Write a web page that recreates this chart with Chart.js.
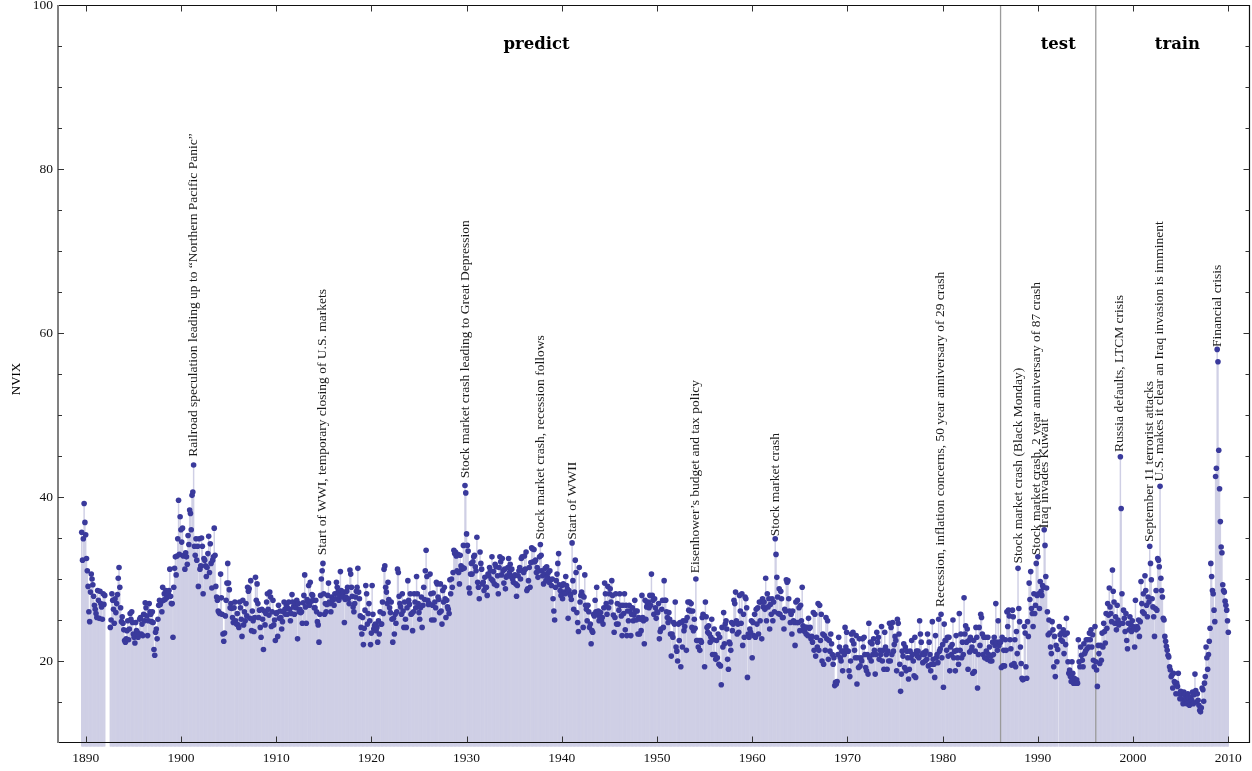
<!DOCTYPE html>
<html>
<head>
<meta charset="utf-8">
<script src="https://cdn.jsdelivr.net/npm/chart.js@4.4.1/dist/chart.umd.min.js"></script>
<style>
  html, body { margin: 0; padding: 0; background: #fff; }
  #wrap { width: 1252px; height: 771px; position: relative; }
</style>
</head>
<body>
<div id="wrap"><canvas id="nvix"></canvas></div>
<script>
// monthly NVIX, first value is July 1889 (x = year + month/12)
const firstYear = 1889;
const firstMonth = 7;

const nvix1880s = [35.7, 32.3, 34.9, 39.2, 36.9, 35.4];
const nvix1890s = [
  32.5, 31.0, 29.1, 26.0, 24.8, 28.4, 30.6, 30.0, 29.3, 27.9, 26.8, 26.3,
  25.8, 25.3, 28.6, 27.4, 25.2, 28.5, 27.0, 26.6, 25.1, 28.2, 26.9, 28.0,
  null, null, null, null, null, null, 24.1, 25.0, 28.2, 27.4, 26.3, 24.6,
  27.6, 25.9, 27.0, 28.1, 30.1, 31.4, 29.0, 26.5, 24.8, 25.4, 24.6, 23.8,
  22.5, 22.3, 22.7, 23.7, 24.9, 22.6, 23.9, 25.8, 25.1, 26.0, 24.7, 23.3,
  22.9, 22.2, 24.7, 23.7, 23.5, 22.9, 23.3, 25.1, 25.3, 23.3, 24.5, 23.1,
  25.7, 24.9, 27.1, 26.5, 25.5, 23.1, 24.9, 27.0, 26.0, 25.7, 24.8, 26.0,
  24.7, 21.4, 20.7, 23.5, 23.9, 22.7, 25.1, 26.8, 27.4, 26.9, 27.2, 26.0,
  29.0, 27.4, 28.2, 27.5, 28.6, 27.7, 28.0, 28.2, 28.6, 31.2, 27.9, 27.0,
  27.0, 22.9, 29.0, 31.3, 32.7, 30.5, 32.8, 34.9, 39.6, 33.0, 37.6, 36.0
];
const nvix1900s = [
  34.5, 36.2, 32.8, 32.9, 31.2, 33.2, 32.7, 31.8, 35.3, 34.2, 38.4, 38.0,
  36.0, 40.2, 40.6, 43.9, 34.0, 32.9, 34.9, 32.3, 34.0, 29.1, 34.9, 31.2,
  31.6, 35.0, 34.0, 28.2, 32.5, 32.3, 31.6, 30.3, 31.4, 33.1, 35.2, 30.8,
  34.3, 31.9, 28.9, 32.3, 32.7, 36.2, 32.9, 29.1, 27.8, 27.4, 26.1, 25.9,
  25.8, 30.6, 27.7, 25.7, 23.3, 22.4, 23.4, 25.5, 27.4, 29.5, 31.9, 29.5,
  28.7, 26.5, 27.0, 26.4, 25.3, 24.7, 26.5, 27.2, 24.9, 24.5, 25.8, 24.4,
  24.1, 27.2, 26.5, 25.1, 23.0, 27.4, 24.4, 26.0, 24.9, 27.0, 25.5, 29.0,
  28.5, 28.8, 25.2, 29.8, 23.7, 26.1, 24.9, 23.6, 25.3, 30.2, 27.4, 29.4,
  27.0, 25.3, 26.2, 24.1, 22.9, 26.3, 25.1, 21.4, 26.1, 24.4, 25.8, 27.2,
  28.2, 26.3, 25.6, 28.4, 27.8, 24.2, 26.0, 27.4, 24.4, 25.0, 22.5, 25.8
];
const nvix1910s = [
  25.9, 23.0, 26.8, 25.2, 26.1, 25.3, 23.9, 24.8, 26.0, 27.2, 26.3, 25.7,
  26.8, 25.7, 26.4, 27.2, 26.3, 24.9, 25.8, 28.1, 27.2, 26.6, 25.7, 27.0,
  26.5, 27.4, 22.7, 27.0, 26.0, 26.3, 25.9, 26.0, 24.6, 27.1, 28.0, 30.5,
  26.6, 24.6, 27.5, 27.2, 29.2, 26.8, 29.6, 27.3, 28.1, 28.0, 27.4, 26.5,
  26.5, 27.4, 26.0, 24.8, 24.4, 22.3, 25.7, 28.0, 30.0, 31.0, 31.9, 28.2,
  25.7, 27.0, 26.0, 26.9, 28.0, 29.5, 27.2, 27.0, 26.0, 27.8, 27.4, 27.5,
  26.8, 28.2, 27.6, 29.6, 29.0, 28.4, 27.4, 28.0, 30.9, 28.6, 27.8, 28.2,
  28.4, 24.7, 27.5, 27.8, 28.5, 29.0, 27.6, 27.0, 31.1, 30.6, 29.0, 27.9,
  26.6, 26.0, 27.0, 27.8, 28.5, 29.0, 31.3, 28.4, 27.6, 25.5, 24.1, 23.3,
  25.3, 22.0, 24.0, 26.2, 29.2, 28.2, 24.5, 25.8, 27.0, 24.9, 22.0, 23.4
];
const nvix1920s = [
  29.2, 25.7, 23.9, 24.3, 24.5, 23.7, 24.1, 22.3, 24.9, 23.3, 26.0, 24.5,
  24.5, 27.2, 25.8, 31.2, 31.6, 29.0, 28.4, 27.0, 29.6, 27.5, 26.5, 25.9,
  27.2, 25.1, 22.3, 25.2, 23.3, 25.7, 24.6, 26.0, 31.2, 30.8, 27.9, 27.0,
  26.6, 25.7, 28.2, 26.1, 24.1, 27.2, 25.1, 24.1, 26.5, 29.8, 27.4, 26.9,
  28.2, 25.7, 25.8, 23.7, 26.0, 28.2, 27.2, 26.5, 30.3, 28.2, 27.0, 25.9,
  25.1, 26.5, 27.8, 24.1, 26.8, 29.0, 27.5, 31.0, 33.5, 30.3, 27.4, 26.9,
  27.0, 30.6, 28.2, 25.0, 26.8, 28.3, 25.0, 27.2, 26.5, 29.6, 29.4, 27.8,
  27.5, 25.9, 29.4, 26.1, 24.5, 28.6, 27.2, 29.0, 27.6, 25.3, 27.4, 26.6,
  26.3, 25.8, 29.9, 28.2, 30.0, 29.0, 30.8, 33.5, 33.1, 33.3, 32.8, 31.0,
  33.0, 30.8, 29.4, 32.9, 31.6, 31.2, 31.4, 34.1, 31.3, 41.4, 40.5, 35.5
];
const nvix1930s = [
  34.1, 33.4, 28.9, 28.3, 30.6, 31.9, 30.6, 32.1, 32.7, 32.9, 31.5, 31.0,
  35.1, 29.6, 29.0, 27.6, 33.3, 31.9, 31.2, 29.4, 29.6, 28.6, 30.2, 29.0,
  29.0, 28.0, 30.6, 30.4, 31.4, 31.0, 30.0, 32.7, 29.8, 30.9, 29.4, 31.8,
  31.5, 29.2, 30.4, 28.2, 31.4, 32.7, 32.1, 30.5, 32.5, 31.0, 29.5, 31.2,
  28.8, 30.2, 30.4, 31.4, 32.5, 30.8, 31.8, 30.3, 31.2, 30.0, 29.6, 30.4,
  30.5, 29.4, 27.9, 29.2, 30.4, 31.0, 31.4, 30.0, 32.5, 32.7, 31.0, 30.8,
  32.8, 31.2, 33.3, 28.6, 28.8, 29.8, 31.4, 29.0, 32.0, 33.8, 33.7, 32.1,
  33.6, 32.1, 32.3, 30.8, 31.4, 30.2, 31.0, 32.7, 34.2, 32.9, 31.0, 30.4,
  29.4, 30.6, 31.3, 29.8, 31.5, 30.2, 30.8, 29.6, 31.0, 29.9, 29.2, 30.0,
  27.6, 26.1, 25.0, 29.0, 29.8, 30.6, 31.9, 33.1, 29.3, 28.6, 28.0, 29.2
];
const nvix1940s = [
  27.6, 29.4, 28.4, 28.2, 30.3, 29.2, 28.8, 25.2, 28.6, 28.2, 28.0, 27.5,
  34.4, 29.8, 26.3, 28.4, 32.3, 30.8, 25.9, 24.7, 23.6, 31.4, 27.2, 28.0,
  28.4, 28.0, 24.1, 27.8, 30.5, 26.8, 26.3, 24.9, 26.8, 26.0, 24.1, 24.5,
  22.1, 23.7, 23.5, 25.7, 25.5, 27.4, 26.0, 29.0, 25.7, 26.1, 24.9, 25.3,
  25.9, 24.9, 25.3, 24.5, 26.5, 29.5, 28.2, 27.0, 25.7, 29.1, 26.5, 28.2,
  28.8, 27.2, 29.8, 28.0, 25.6, 23.5, 25.3, 28.2, 24.5, 27.0, 24.5, 26.2,
  28.2, 26.8, 25.5, 23.1, 26.8, 25.8, 28.2, 23.8, 26.8, 23.1, 26.1, 24.9,
  26.8, 26.1, 23.1, 25.7, 26.5, 24.9, 25.6, 27.4, 26.1, 25.0, 26.1, 23.3,
  25.3, 23.3, 25.1, 23.7, 28.0, 25.3, 24.9, 22.1, 27.4, 25.1, 26.6, 27.0,
  27.2, 26.5, 28.0, 26.8, 30.6, 28.0, 27.4, 25.7, 27.6, 26.5, 25.2, 26.0
];
const nvix1950s = [
  25.9, 27.0, 22.7, 23.6, 23.9, 26.3, 27.4, 24.1, 29.8, 27.4, 27.4, 26.0,
  25.3, 24.7, 25.9, 25.1, 23.3, 20.6, 23.3, 22.9, 24.7, 24.5, 27.2, 21.7,
  21.2, 20.0, 24.5, 22.5, 24.7, 19.3, 24.7, 21.7, 24.9, 23.7, 24.2, 24.9,
  21.3, 25.3, 27.2, 26.2, 27.2, 26.1, 27.0, 24.1, 26.1, 23.7, 25.1, 24.0,
  30.0, 22.5, 22.5, 21.7, 22.5, 21.3, 22.5, 22.3, 25.3, 25.7, 25.5, 19.3,
  27.2, 25.4, 24.1, 23.5, 24.3, 23.3, 22.3, 22.9, 25.1, 20.8, 22.6, 23.9,
  20.8, 20.2, 22.5, 20.4, 23.3, 19.6, 22.9, 19.4, 17.1, 24.1, 21.7, 25.9,
  22.1, 24.5, 24.9, 23.9, 20.2, 19.0, 22.3, 22.1, 21.3, 24.7, 23.7, 24.5,
  27.4, 27.0, 28.4, 24.9, 23.3, 24.5, 23.5, 28.0, 26.1, 24.6, 28.2, 21.9,
  25.7, 22.9, 27.8, 27.6, 26.5, 18.0, 23.3, 22.9, 23.9, 23.5, 24.9, 20.4
];
const nvix1960s = [
  24.7, 23.1, 25.7, 22.9, 26.3, 24.5, 26.5, 23.3, 27.2, 24.9, 27.2, 22.7,
  27.6, 26.6, 27.2, 26.3, 30.1, 24.9, 28.2, 26.6, 27.6, 23.9, 26.9, 25.7,
  27.6, 24.9, 27.2, 26.0, 34.9, 33.0, 30.2, 27.8, 25.8, 28.8, 25.7, 28.5,
  27.6, 25.3, 25.3, 23.9, 26.3, 26.1, 29.9, 29.6, 29.8, 27.6, 26.1, 24.7,
  25.7, 23.3, 26.1, 24.9, 24.7, 21.9, 27.2, 24.7, 27.4, 24.7, 26.5, 23.7,
  26.8, 24.9, 29.0, 24.3, 24.1, 23.6, 24.1, 23.3, 24.1, 23.1, 25.2, 24.0,
  24.1, 22.7, 23.0, 22.3, 25.9, 21.3, 25.7, 20.6, 22.9, 21.7, 27.0, 21.3,
  26.8, 22.5, 25.7, 20.0, 23.3, 19.6, 23.1, 21.3, 25.3, 22.7, 24.9, 20.2,
  22.5, 21.2, 23.3, 22.1, 20.8, 19.6, 20.4, 17.0, 17.4, 17.2, 17.5, 20.8,
  22.9, 21.7, 20.4, 20.0, 21.2, 18.8, 21.2, 20.8, 24.1, 21.7, 23.5, 21.2
];
const nvix1970s = [
  21.2, 18.8, 18.1, 20.0, 23.3, 22.5, 23.5, 22.1, 21.3, 20.4, 23.1, 17.2,
  20.4, 19.2, 22.7, 19.4, 20.4, 20.0, 22.7, 21.7, 22.9, 20.8, 19.2, 18.8,
  20.8, 18.4, 24.6, 20.4, 22.3, 20.0, 22.1, 20.8, 22.7, 21.3, 18.4, 20.8,
  23.5, 22.3, 22.9, 20.2, 21.3, 20.8, 24.2, 20.0, 21.3, 19.0, 23.5, 21.7,
  20.8, 19.0, 21.2, 20.0, 24.6, 20.0, 24.1, 20.8, 24.7, 21.2, 22.0, 23.0,
  22.5, 18.8, 25.1, 24.6, 23.3, 19.6, 16.3, 18.4, 21.2, 20.6, 22.1, 19.2,
  21.7, 18.8, 21.2, 20.4, 17.8, 19.0, 21.2, 20.4, 22.5, 20.8, 20.0, 18.2,
  22.9, 18.0, 21.2, 20.6, 21.2, 20.4, 24.9, 23.3, 22.3, 20.8, 19.8, 21.0,
  20.8, 20.0, 21.2, 20.2, 23.3, 19.4, 22.3, 20.8, 18.8, 19.6, 24.8, 20.2,
  19.6, 18.0, 23.1, 20.4, 20.8, 19.8, 25.1, 21.2, 21.5, 25.7, 20.4, 22.0
];
const nvix1980s = [
  16.8, 24.5, 22.5, 22.5, 21.3, 22.9, 20.6, 22.9, 18.8, 21.7, 20.8, 22.0,
  25.0, 20.4, 21.2, 18.8, 23.1, 21.3, 20.4, 19.6, 25.8, 21.3, 23.3, 20.4,
  22.3, 20.8, 27.7, 23.3, 24.3, 22.3, 23.9, 19.0, 22.5, 21.1, 22.9, 21.3,
  21.7, 18.5, 22.5, 18.7, 21.2, 24.1, 22.9, 16.7, 20.8, 24.1, 21.9, 25.7,
  25.3, 23.3, 20.8, 22.9, 20.4, 22.9, 21.2, 20.2, 22.9, 20.8, 21.7, 20.0,
  20.6, 20.0, 22.3, 20.8, 22.9, 21.9, 27.0, 22.3, 21.3, 24.9, 21.9, 22.3,
  22.3, 19.2, 22.9, 19.4, 21.3, 19.4, 22.6, 21.3, 26.0, 24.2, 26.2, 25.5,
  22.6, 21.5, 19.5, 26.2, 25.4, 19.7, 22.6, 19.3, 23.6, 20.9, 31.3, 26.4,
  24.8, 21.7, 19.7, 17.9, 17.7, 17.8, 24.2, 23.4, 19.3, 17.9, 24.8, 23.0,
  29.5, 27.5, 30.9, 26.4, 25.8, 24.2, 28.2, 25.8, 26.8, 31.9, 28.0, 32.7
];
const nvix1990s = [
  28.2, 26.4, 29.7, 28.5, 28.0, 29.2, 29.0, 36.0, 34.1, 30.3, 28.9, 26.0,
  23.2, 25.0, 23.4, 21.7, 20.9, 24.8, 23.8, 19.3, 23.0, 18.1, 21.9, 19.9,
  21.4, null, 24.2, 23.2, 22.6, 23.4, 22.4, 23.8, 20.9, 23.2, 22.0, 25.2,
  23.4, 19.9, 18.5, 18.9, 18.1, 17.5, 19.9, 18.5, 17.3, 17.9, 17.7, 17.3,
  17.7, 17.3, 22.6, 19.9, 19.3, 21.7, 20.7, 20.1, 19.3, 22.1, 20.9, 21.2,
  22.6, 21.5, 22.6, 21.7, 23.4, 22.6, 23.8, 21.7, 23.2, 20.1, 19.3, 24.2,
  19.9, 18.9, 16.9, 21.9, 20.9, 19.7, 21.9, 20.1, 23.4, 21.7, 24.6, 23.6,
  22.2, 25.8, 24.0, 27.0, 25.6, 28.9, 26.6, 25.8, 24.8, 31.1, 28.5, 27.2,
  24.6, 25.4, 23.8, 26.8, 25.0, 24.4, 24.6, 44.9, 38.6, 28.2, 24.6, 26.2,
  25.2, 23.6, 25.8, 22.5, 21.5, 24.6, 23.8, 25.4, 24.4, 23.6, 24.9, 24.2
];
const nvix2000s = [
  24.0, 21.7, 27.4, 23.8, 24.2, 24.0, 25.0, 23.0, 24.8, 29.7, 27.0, 26.0,
  28.2, 25.8, 30.4, 28.6, 26.8, 25.4, 27.8, 27.2, 34.0, 31.9, 29.9, 27.6,
  26.6, 25.4, 23.0, 26.4, 28.6, 26.2, 32.5, 32.3, 31.5, 41.3, 30.1, 28.6,
  27.8, 25.2, 25.0, 23.0, 22.4, 21.8, 21.3, 20.7, 20.5, 19.3, 18.9, 18.1,
  18.3, 16.7, 18.5, 17.5, 17.3, 16.0, 17.3, 16.9, 18.5, 16.0, 15.4, 16.3,
  15.4, 16.0, 14.8, 16.2, 15.9, 15.2, 15.4, 14.8, 16.0, 15.6, 14.6, 15.0,
  15.6, 15.2, 16.2, 14.8, 15.9, 18.4, 16.4, 15.0, 16.0, 15.2, 14.6, 14.0,
  13.8, 14.3, 16.7, 16.5, 15.1, 17.3, 18.1, 21.7, 20.4, 19.0, 20.8, 22.4,
  24.0, 31.9, 30.3, 28.6, 28.2, 26.2, 24.8, 42.5, 43.5, 58.0, 56.5, 45.7,
  41.0, 37.0, 33.9, 33.2, 29.3, 28.6, 28.4, 27.3, 26.8, 26.2, 24.9, 23.5
];

const xTicks = [1890, 1900, 1910, 1920, 1930, 1940, 1950, 1960, 1970, 1980, 1990, 2000, 2010];
const yLabelStep = 20;
const splitDates = [1986.083, 1996.083];
const regionNames = ['predict', 'test', 'train'];
const regionCenters = [1937.35, 1992.14, 2004.66];
const regionLevel = 95.1;

const eventLabels = [
  'Railroad speculation leading up to \u201cNorthern Pacific Panic\u201d',
  'Start of WWI, temporary closing of U.S. markets',
  'Stock market crash leading to Great Depression',
  'Stock market crash, recession follows',
  'Start of WWII',
  'Eisenhower\u2019s budget and tax policy',
  'Stock market crash',
  'Recession, inflation concerns, 50 year anniversary of 29 crash',
  'Stock market crash (Black Monday)',
  'Stock market crash, 2 year anniversary of 87 crash',
  'Iraq invades Kuwait',
  'Russia defaults, LTCM crisis',
  'September 11 terrorist attacks',
  'U.S. makes it clear an Iraq invasion is imminent',
  'Financial crisis'
];
const eventDates = [1901.30, 1914.89, 1929.87, 1937.71, 1941.10, 1954.06, 1962.46, 1979.82,
                    1987.94, 1989.87, 1990.67, 1998.62, 2001.77, 2002.82, 2008.88];
const eventLevels = [44.9, 32.9, 42.3, 34.8, 34.8, 30.7, 35.2, 26.6,
                     31.9, 32.9, 36.2, 45.5, 34.5, 41.9, 58.3];

const nvix = [].concat(nvix1880s, nvix1890s, nvix1900s, nvix1910s, nvix1920s, nvix1930s,
                       nvix1940s, nvix1950s, nvix1960s, nvix1970s, nvix1980s, nvix1990s, nvix2000s);
const points = nvix.map((v, i) => ({ x: firstYear + (firstMonth + i) / 12, y: v }));

const serif = '"Liberation Serif", "Times New Roman", serif';

const decorations = {
  id: 'decorations',
  afterDatasetDraw(chart, args) {
    if (args.index !== 1) return;
    const ctx = chart.ctx, a = chart.chartArea, x = chart.scales.x;
    ctx.save();
    ctx.strokeStyle = '#9b9b9b';
    ctx.lineWidth = 1.3;
    splitDates.forEach(d => {
      const px = x.getPixelForValue(d);
      ctx.beginPath();
      ctx.moveTo(px, a.top);
      ctx.lineTo(px, a.bottom);
      ctx.stroke();
    });
    ctx.restore();
  },
  afterDatasetsDraw(chart) {
    const ctx = chart.ctx, a = chart.chartArea;
    const x = chart.scales.x, y = chart.scales.y;
    ctx.save();

    // event notes, written upwards
    ctx.fillStyle = '#1a1a1a';
    ctx.font = '13.5px ' + serif;
    ctx.textAlign = 'left';
    ctx.textBaseline = 'middle';
    eventLabels.forEach((t, i) => {
      ctx.save();
      ctx.translate(x.getPixelForValue(eventDates[i]), y.getPixelForValue(eventLevels[i]));
      ctx.rotate(-Math.PI / 2);
      ctx.fillText(t, 0, 0);
      ctx.restore();
    });

    // sample split names
    ctx.fillStyle = '#000';
    ctx.font = 'bold 16.5px "DejaVu Serif", serif';
    ctx.textAlign = 'center';
    regionNames.forEach((t, i) => {
      ctx.fillText(t, x.getPixelForValue(regionCenters[i]), y.getPixelForValue(regionLevel));
    });

    // axis title
    ctx.save();
    ctx.font = '13px ' + serif;
    ctx.translate(17, (a.top + a.bottom) / 2 + 5);
    ctx.rotate(-Math.PI / 2);
    ctx.fillText('NVIX', 0, 0);
    ctx.restore();

    // frame
    const L = a.left, R = Math.round(a.right) - 0.5, T = Math.round(a.top) + 0.5, B = Math.round(a.bottom) - 0.5;
    ctx.strokeStyle = '#111';
    ctx.lineWidth = 1.2;
    ctx.beginPath();
    ctx.moveTo(L, T); ctx.lineTo(R, T); ctx.lineTo(R, B); ctx.lineTo(L, B);
    ctx.stroke();
    ctx.strokeStyle = '#808080';
    ctx.lineWidth = 2;
    ctx.beginPath();
    ctx.moveTo(L, a.top); ctx.lineTo(L, a.bottom);
    ctx.stroke();

    // inward ticks
    ctx.strokeStyle = '#333';
    ctx.lineWidth = 1;
    ctx.beginPath();
    for (let v = 15; v < 100; v += 5) {
      const py = Math.round(y.getPixelForValue(v)) + 0.5;
      const len = v % yLabelStep === 0 ? 6 : 4;
      ctx.moveTo(L, py); ctx.lineTo(L + len, py);
      ctx.moveTo(R, py); ctx.lineTo(R - len, py);
    }
    xTicks.forEach(v => {
      const px = Math.round(x.getPixelForValue(v)) + 0.5;
      ctx.moveTo(px, B); ctx.lineTo(px, B - 6);
      ctx.moveTo(px, T); ctx.lineTo(px, T + 6);
    });
    ctx.stroke();
    ctx.restore();
  }
};

new Chart(document.getElementById('nvix'), {
  type: 'bar',
  data: {
    datasets: [
      {
        type: 'scatter',
        data: points,
        pointRadius: 2.8,
        pointBackgroundColor: '#3a3a9c',
        pointBorderWidth: 0,
        order: 0
      },
      {
        type: 'bar',
        data: points,
        backgroundColor: '#cfcfe5',
        borderWidth: 0,
        barPercentage: 1,
        categoryPercentage: 1,
        base: 9.6,
        clip: { left: 0, top: 0, right: 0, bottom: 4 },
        order: 1
      }
    ]
  },
  options: {
    responsive: true,
    maintainAspectRatio: false,
    animation: false,
    events: [],
    layout: { autoPadding: false, padding: { top: 5, right: 2, left: 0, bottom: 0 } },
    plugins: { legend: { display: false }, tooltip: { enabled: false } },
    scales: {
      x: {
        type: 'linear',
        offset: false,
        min: 1887.09,
        max: 2012.28,
        grid: { display: false, drawTicks: false, offset: false },
        border: { display: false },
        ticks: {
          autoSkip: false,
          maxRotation: 0,
          padding: 7,
          color: '#111',
          font: { family: serif, size: 13.5 },
          callback: v => String(v)
        },
        afterBuildTicks: s => { s.ticks = xTicks.map(v => ({ value: v })); },
        afterFit: s => { s.height = 28; s.paddingLeft = 0; s.paddingRight = 0; }
      },
      y: {
        min: 10,
        max: 100,
        grid: { display: false, drawTicks: false },
        border: { display: false },
        ticks: {
          stepSize: 5,
          padding: 5,
          color: '#111',
          font: { family: serif, size: 13.5 },
          callback: v => (v % yLabelStep === 0 ? String(v) : '')
        },
        afterFit: s => { s.width = 58; s.paddingTop = 0; s.paddingBottom = 0; }
      }
    }
  },
  plugins: [decorations]
});
</script>
</body>
</html>
